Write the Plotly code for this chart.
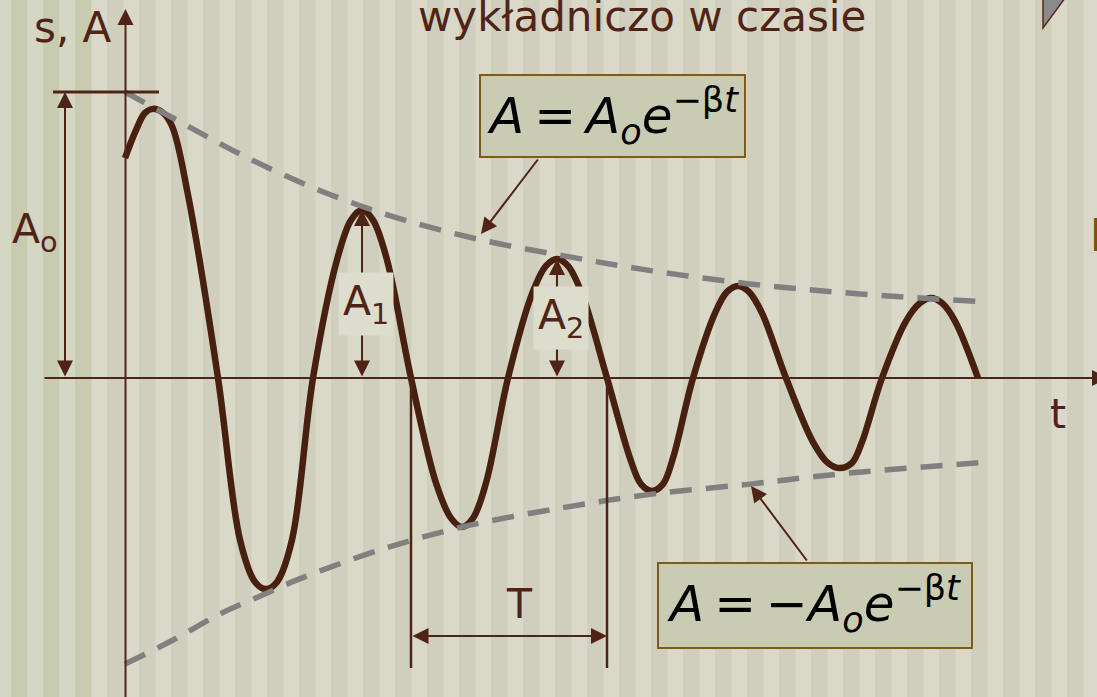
import plotly.graph_objects as go

# ---- data (t: time units, s: displacement in % of A0) ----
t_curve = [0.0, 1.1, 2.0, 2.8, 3.7, 4.7, 6.3, 9.3, 11.5, 13.0, 14.1, 15.2, 16.7, 18.8, 21.2, 22.6,
           23.7, 24.8, 26.2, 28.6, 31.1, 32.6, 33.7, 34.8, 36.1, 38.3, 40.7, 42.1, 43.2, 44.3, 45.7,
           48.2, 50.5, 51.6, 52.7, 53.8, 54.8, 56.8, 59.0, 60.2, 61.3, 62.4, 63.7, 66.1, 68.8, 70.3,
           71.5, 72.7, 73.7, 75.7, 78.1, 79.5, 80.6, 81.7, 83.0, 85.3]
s_curve = [76.9, 86.7, 92.7, 94.1, 93.0, 88.1, 64.0, 0.0, -56.6, -71.3, -73.8, -71.3, -56.6, 0.0,
           41.3, 55.2, 58.7, 55.2, 41.3, 0.0, -36.7, -49.0, -52.1, -49.0, -36.7, 0.0, 29.4, 39.2,
           41.6, 39.2, 29.4, 0.0, -28.0, -37.1, -39.5, -37.1, -28.0, 0.0, 22.7, 30.1, 32.2, 30.1,
           22.7, 0.0, -22.4, -29.7, -31.5, -29.7, -22.4, 0.0, 19.9, 26.2, 28.0, 26.2, 19.9, 0.0]

t_env_up = [0.0, 4.8, 11.9, 19.6, 27.3, 35.6, 43.9, 52.1, 62.5, 73.5, 86.0]
s_env_up = [100.0, 90.9, 77.6, 65.4, 55.9, 48.3, 42.7, 37.8, 32.9, 29.4, 26.6]
t_env_lo = [0.0, 4.8, 9.5, 13.3, 17.2, 25.5, 33.7, 43.5, 52.7, 62.5, 71.3, 86.3]
s_env_lo = [-100.0, -91.6, -82.5, -76.6, -70.6, -60.1, -52.1, -45.5, -40.6, -37.1, -33.6, -29.4]

A0 = 100.0
amp_labels = ["A<sub>1</sub>", "A<sub>2</sub>"]
amp_t = [23.7, 43.2]
amp_s = [58.7, 41.6]
period_t = [28.6, 48.2]

title_text = "wykładniczo w czasie"
y_label = "s, A"
x_label = "t"
a0_label = "A<sub>o</sub>"
period_label = "T"
formula_up = "<i>A</i>\u2009=\u2009<i>A<sub>o</sub>e</i><sup>−β<i>t</i></sup>"
formula_lo = "<i>A</i>\u2009=\u2009−<i>A<sub>o</sub>e</i><sup>−β<i>t</i></sup>"

# ---- geometry helpers (pixel -> data) ----
W, H = 1097, 697
def X(px):
    return (px - 125) / 10.0
def Y(py):
    return (378 - py) / 2.86

BROWN = "#4F2417"
CURVE = "#48200F"
FONT = "DejaVu Sans"

fig = go.Figure()
fig.add_trace(go.Scatter(x=t_curve, y=s_curve, mode="lines",
                         line=dict(color=CURVE, width=6.5, shape="spline", smoothing=1.0),
                         hoverinfo="skip", showlegend=False))
for tt, ss in [(t_env_up, s_env_up), (t_env_lo, s_env_lo)]:
    fig.add_trace(go.Scatter(x=tt, y=ss, mode="lines",
                             line=dict(color="#808080", width=5.5, dash="22px,14px", shape="spline"),
                             hoverinfo="skip", showlegend=False))

shapes = []
# background stripes
for k in range(35):
    x0 = 11 + 32 * k
    shapes.append(dict(type="rect", xref="paper", yref="paper", x0=x0 / W, x1=(x0 + 16.5) / W,
                       y0=0, y1=1, fillcolor="#C8CBB0" if k < 3 else "#D0CFBD",
                       line=dict(width=0), layer="below"))
for x0, x1 in [(0, 11), (27.5, 43), (59.5, 75)]:
    shapes.append(dict(type="rect", xref="paper", yref="paper", x0=x0 / W, x1=x1 / W,
                       y0=0, y1=1, fillcolor="#D5D7C5", line=dict(width=0), layer="below"))

# A0 reference line
shapes.append(dict(type="line", x0=X(53), x1=X(159), y0=A0, y1=A0, line=dict(color=BROWN, width=3)))
# period verticals
for pt in period_t:
    shapes.append(dict(type="line", x0=pt, x1=pt, y0=0, y1=Y(668), line=dict(color=BROWN, width=2.5)))
# formula boxes
shapes.append(dict(type="rect", x0=X(480), x1=X(745), y0=Y(75), y1=Y(157),
                   fillcolor="#C9CBB3", line=dict(color="#7F5B13", width=2)))
shapes.append(dict(type="rect", x0=X(658), x1=X(972), y0=Y(563), y1=Y(648),
                   fillcolor="#C9CBB3", line=dict(color="#7F5B13", width=2)))
# corner triangle
shapes.append(dict(type="path",
                   path=f"M {X(1043)},{Y(-6)} L {X(1043)},{Y(28)} L {X(1068)},{Y(-6)} Z",
                   fillcolor="#8A8A8A", line=dict(color="#5A2A1A", width=1.5)))

ann = []
def arrow(hx, hy, tx, ty, both=False, width=2, size=1.6):
    d = dict(x=hx, y=hy, ax=tx, ay=ty, xref="x", yref="y", axref="x", ayref="y", text="",
             showarrow=True, arrowhead=2, arrowsize=size, arrowwidth=width, arrowcolor=BROWN,
             standoff=0, startstandoff=0)
    if both:
        d.update(arrowside="end+start", startarrowhead=2, startarrowsize=size)
    ann.append(d)

# axes
arrow(X(125.5), Y(9), X(125.5), Y(720))
arrow(X(1108), 0, X(43), 0)
# A0 double arrow
arrow(X(65), A0, X(65), 0, both=True)
# amplitude arrows
for at, av in zip(amp_t, amp_s):
    arrow(at, av, at, 0, both=True)
# period arrow
arrow(period_t[1], Y(636), period_t[0], Y(636), both=True)
# box pointers
arrow(X(481), Y(234), X(539), Y(158))
arrow(X(751), Y(486), X(808), Y(562))

def label(x, y, text, size=41, color=BROWN, bg=None, xanchor="center", family=FONT):
    d = dict(x=x, y=y, xref="x", yref="y", text=text, showarrow=False, xanchor=xanchor,
             yanchor="middle", font=dict(family=family, size=size, color=color))
    if bg:
        d.update(bgcolor=bg, borderpad=4)
    ann.append(d)

label(X(642), Y(16), title_text, size=42)
label(X(73), Y(27), y_label, size=42)
label(X(1058), Y(414), x_label, size=41)
label(X(10), Y(232), a0_label, size=41, xanchor="left")
amp_lab_px = [(367, 304), (559, 318)]
for (lx, ly), txt, at in zip(amp_lab_px, amp_labels, amp_t):
    label(at + 0.4, Y(ly), txt, size=41, bg="#DCDDCC")
label((period_t[0] + period_t[1]) / 2 + 1.0, Y(604), period_label, size=41)
label(X(613), Y(116), formula_up, size=50, color="#000000")
label(X(814), Y(604), formula_lo, size=50, color="#000000")
label(X(1088), Y(236), "l", size=43, color="#7B5010", xanchor="left")

fig.update_layout(
    width=W, height=H, autosize=False,
    margin=dict(l=0, r=0, t=0, b=0),
    paper_bgcolor="#D9D8C9", plot_bgcolor="#D9D8C9",
    xaxis=dict(range=[X(0), X(W)], visible=False, fixedrange=True),
    yaxis=dict(range=[Y(H), Y(0)], visible=False, fixedrange=True),
    shapes=shapes, annotations=ann, showlegend=False,
)
fig.write_html("out.html", config={"displayModeBar": False},
               post_script="document.body.style.margin='0';document.body.style.overflow='hidden';")
